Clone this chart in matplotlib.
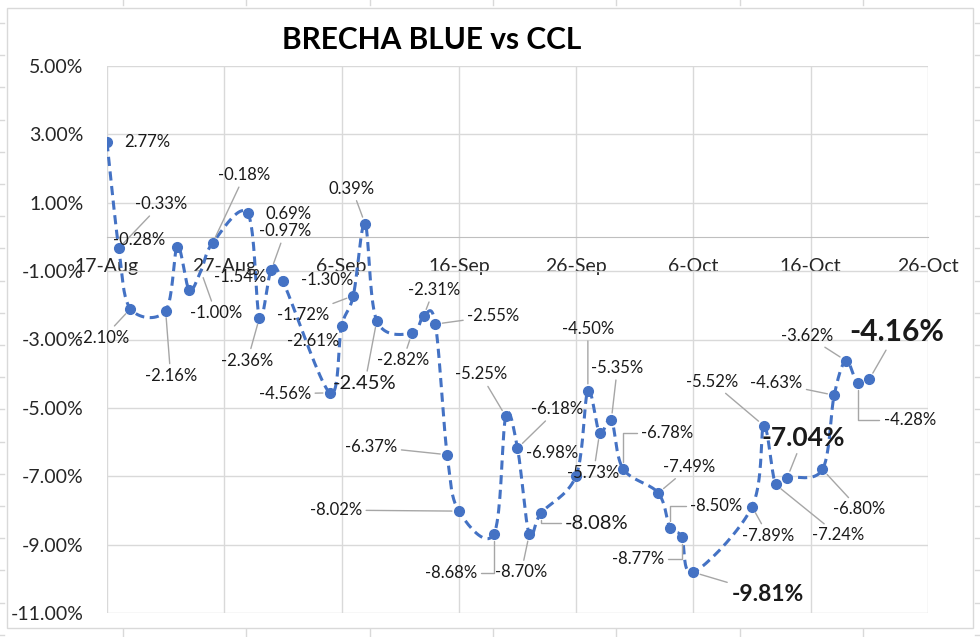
import numpy as np
import matplotlib
matplotlib.use("Agg")
import matplotlib.pyplot as plt
import matplotlib.dates as mdates
from matplotlib.patches import Rectangle
from matplotlib.lines import Line2D
from matplotlib.ticker import FuncFormatter

plt.rcParams['font.family'] = ['Lato', 'DejaVu Sans']

# datos: brecha blue vs CCL (%)
fechas = ['2022-08-17', '2022-08-18', '2022-08-19', '2022-08-22', '2022-08-23',
          '2022-08-24', '2022-08-25', '2022-08-26', '2022-08-29', '2022-08-30',
          '2022-08-31', '2022-09-01', '2022-09-05', '2022-09-06', '2022-09-07',
          '2022-09-08', '2022-09-09', '2022-09-12', '2022-09-13', '2022-09-14',
          '2022-09-15', '2022-09-16', '2022-09-19', '2022-09-20', '2022-09-21',
          '2022-09-22', '2022-09-23', '2022-09-26', '2022-09-27', '2022-09-28',
          '2022-09-29', '2022-09-30', '2022-10-03', '2022-10-04', '2022-10-05',
          '2022-10-06', '2022-10-11', '2022-10-12', '2022-10-13', '2022-10-14',
          '2022-10-17', '2022-10-18', '2022-10-19', '2022-10-20', '2022-10-21']
brecha = [2.77, -0.33, -2.10, -2.16, -0.28, -1.54, -1.00, -0.18, 0.69, -2.36,
          -0.97, -1.30, -4.56, -2.61, -1.72, 0.39, -2.45, -2.82, -2.31, -2.55,
          -6.37, -8.02, -8.68, -5.25, -6.18, -8.70, -8.08, -6.98, -4.50, -5.73,
          -5.35, -6.78, -7.49, -8.50, -8.77, -9.81, -7.89, -5.52, -7.24, -7.04,
          -6.80, -4.63, -3.62, -4.28, -4.16]
eje_inicio = '2022-08-17'
eje_fin = '2022-10-26'
y_ticks = [-11, -9, -7, -5, -3, -1, 1, 3, 5]

# posicion de etiquetas (px, dy hacia abajo) y si llevan linea guia
etiq_offset = [(40, 0), (42, -44), (-27, 29), (5, 65), (-38, -7), (51, -13), (15, 42),
               (32, -68), (41, 1), (-12, 43), (14, -39), (44, -1), (-45, 1), (-28, 15),
               (-50, 19), (-13, -35), (-12, 63), (-9, 27), (10, -26), (58, -8),
               (-76, -8), (-123, -1), (-43, 39), (-25, -42), (40, -39), (-8, 38),
               (56, 10), (-24, -23), (0, -62), (-6, 40), (6, -52), (44, -36),
               (31, -26), (46, -22), (-44, 22), (74, 22), (16, 29), (-52, -44),
               (63, 51), (16, -40), (37, 40), (-58, -12), (-39, -25), (52, 37), (27, -47)]
sin_guia = {0, 4, 5, 8, 11, 13, 27}
codo = {22, 26, 31, 33, 34, 43}
especial = {16: (14.5, 'normal'), 26: (14.5, 'normal'), 35: (16.5, 'bold'),
            39: (19, 'bold'), 44: (21.5, 'bold')}
sin_marcador = {6}

AZUL = '#4472C4'
GRIS = '#D9D9D9'


def suavizar(x, y, n=20):
    P = np.column_stack([x, y])
    Q = np.vstack([P[0], P, P[-1]])
    partes = []
    for i in range(len(P) - 1):
        p0, p1, p2, p3 = Q[i], Q[i + 1], Q[i + 2], Q[i + 3]
        c1 = p1 + (p2 - p0) / 6.0
        c2 = p2 - (p3 - p1) / 6.0
        t = np.linspace(0, 1, n, endpoint=(i == len(P) - 2))[:, None]
        partes.append((1 - t) ** 3 * p1 + 3 * (1 - t) ** 2 * t * c1
                      + 3 * (1 - t) * t ** 2 * c2 + t ** 3 * p2)
    return np.vstack(partes)


W, H = 980, 637
fig = plt.figure(figsize=(W / 100, H / 100), dpi=100)

# marco del grafico y celdas de la hoja
fig.add_artist(Rectangle((7 / W, 1 - 628 / H), 966 / W, 620 / H, transform=fig.transFigure,
                         fill=False, ec=GRIS, lw=1))
for k in range(7):
    xp = (123 + 123.3 * k) / W
    fig.add_artist(Line2D([xp, xp], [1, 1 - 5 / H], transform=fig.transFigure, color=GRIS, lw=1))
    fig.add_artist(Line2D([xp, xp], [1 - 629 / H, 0], transform=fig.transFigure, color=GRIS, lw=1))
for k in range(20):
    yp = 1 - (23 + 32.2 * k) / H
    fig.add_artist(Line2D([0, 4 / W], [yp, yp], transform=fig.transFigure, color=GRIS, lw=1))
    fig.add_artist(Line2D([975 / W, 1], [yp, yp], transform=fig.transFigure, color=GRIS, lw=1))

ax = fig.add_axes([107 / W, 1 - 613 / H, 821 / W, 547 / H])

x = mdates.date2num(np.array(fechas, dtype='datetime64[D]'))
y = np.array(brecha)
x0 = mdates.date2num(np.datetime64(eje_inicio))
x1 = mdates.date2num(np.datetime64(eje_fin))

curva = suavizar(x, y)
ax.plot(curva[:, 0], curva[:, 1], color=AZUL, lw=2.2, ls=(0, (3, 1.8)),
        solid_capstyle='butt', zorder=3)
marcas = [i for i in range(len(x)) if i not in sin_marcador]
ax.plot(x, y, 'o', color=AZUL, ms=7, markevery=marcas, zorder=4)

ax.set_xlim(x0, x1)
ax.set_ylim(-11, 5)
ax.set_xticks(np.arange(x0, x1 + 1, 10))
ax.set_yticks(y_ticks)
ax.xaxis.set_major_formatter(FuncFormatter(
    lambda v, p: '{}-{}'.format(mdates.num2date(v).day, mdates.num2date(v).strftime('%b'))))
ax.yaxis.set_major_formatter(FuncFormatter(lambda v, p: '{:.2f}%'.format(v)))
ax.grid(True, color=GRIS, lw=1, zorder=0)
ax.set_axisbelow(True)
for s in ['top', 'right', 'left']:
    ax.spines[s].set_visible(False)
ax.spines['bottom'].set_position(('data', 0))
ax.spines['bottom'].set_color('#BFBFBF')
ax.tick_params(axis='x', length=0, pad=15, labelsize=14, labelcolor='#262626')
ax.tick_params(axis='y', length=0, pad=17, labelsize=14, labelcolor='#262626')
for lab in ax.get_xticklabels() + ax.get_yticklabels():
    lab.set_clip_on(False)

for i, (xi, yi) in enumerate(zip(x, y)):
    dx, dy = etiq_offset[i]
    tam, peso = especial.get(i, (12, 'normal'))
    props = None
    if i not in sin_guia:
        estilo = 'angle,angleA=0,angleB=90,rad=0' if i in codo else 'arc3'
        props = dict(arrowstyle='-', color='#A6A6A6', lw=1, shrinkA=1, shrinkB=5,
                     connectionstyle=estilo)
    ax.annotate('{:.2f}%'.format(yi), (xi, yi), xytext=(dx, -dy), textcoords='offset pixels',
                ha='center', va='center', fontsize=tam, fontweight=peso, color='#1a1a1a',
                arrowprops=props, zorder=5, annotation_clip=False)

fig.text(432 / W, 1 - 40 / H, 'BRECHA BLUE vs CCL', ha='center', va='center',
         fontsize=21.5, fontweight='bold', color='black')

fig.savefig('out.png', dpi=100)
